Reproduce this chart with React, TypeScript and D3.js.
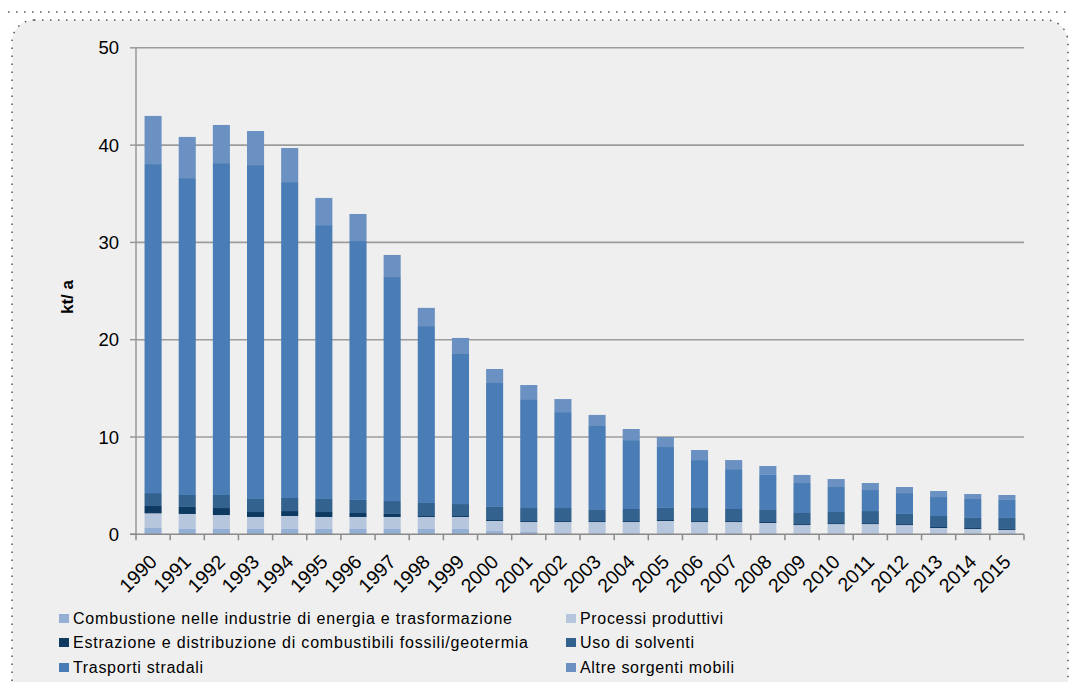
import React from "react";
import * as d3 from "d3";

const years = ["1990","1991","1992","1993","1994","1995","1996","1997","1998","1999","2000","2001","2002","2003","2004","2005","2006","2007","2008","2009","2010","2011","2012","2013","2014","2015"];

const combustione = [0.65,0.55,0.55,0.55,0.55,0.55,0.55,0.55,0.55,0.55,0.33,0.23,0.1,0.1,0.1,0.1,0.1,0.1,0.1,0.05,0.05,0.05,0.05,0.05,0.05,0.05];
const processi = [1.5,1.54,1.43,1.23,1.33,1.23,1.23,1.23,1.23,1.23,1.04,1.03,1.16,1.16,1.16,1.27,1.16,1.16,1.06,0.9,1.0,1.0,0.9,0.6,0.5,0.4];
const estrazione = [0.76,0.72,0.72,0.51,0.51,0.51,0.41,0.31,0.1,0.1,0.1,0.1,0.1,0.1,0.1,0.1,0.1,0.1,0.1,0.1,0.1,0.1,0.1,0.1,0.1,0.1];
const solventi = [1.33,1.23,1.34,1.34,1.34,1.34,1.34,1.33,1.34,1.23,1.34,1.34,1.34,1.14,1.24,1.24,1.34,1.24,1.24,1.14,1.14,1.24,1.04,1.13,1.03,1.13];
const trasporti = [33.81,32.57,34.11,34.32,32.47,28.15,26.61,23.02,18.18,15.42,12.74,11.19,9.86,8.63,7.08,6.26,4.93,4.1,3.6,3.08,2.57,2.16,2.15,1.95,1.95,1.85];
const altre = [4.95,4.23,3.92,3.5,3.5,2.79,2.78,2.27,1.87,1.65,1.44,1.45,1.34,1.14,1.14,1.03,1.03,0.93,0.92,0.83,0.82,0.72,0.62,0.62,0.51,0.51];

const yTicks = [0, 10, 20, 30, 40, 50];

const seriesNames = [
  "Combustione nelle industrie di energia e trasformazione",
  "Processi produttivi",
  "Estrazione e distribuzione di combustibili fossili/geotermia",
  "Uso di solventi",
  "Trasporti stradali",
  "Altre sorgenti mobili",
];
const seriesValues = [combustione, processi, estrazione, solventi, trasporti, altre];
const seriesColors = ["#93afd3", "#b5c6dd", "#0e3a61", "#33628f", "#4a7db5", "#6b91c2"];

const FONT = "'Liberation Sans', Arial, sans-serif";

// legend layout: [squareX, squareY, textWidth]
const legendLayout = [
  [59, 614, 439], [566, 614, 143],
  [59, 638, 455], [566, 638, 114],
  [59, 663, 130], [566, 663, 154],
];

export default function App() {
  const W = 1070, H = 682;
  const x = d3.scaleBand<string>().domain(years).range([136, 1024]).paddingInner(0.5).paddingOuter(0.25);
  const y = d3.scaleLinear().domain([0, 50]).range([534.3, 47.8]);

  const rows = years.map((yr, i) => {
    const r: any = { year: yr };
    seriesNames.forEach((n, k) => (r[n] = seriesValues[k][i]));
    return r;
  });
  const stack = d3.stack<any>().keys(seriesNames)(rows);

  return (
    <div style={{ position: "absolute", left: 0, top: 0 }}>
      <svg width={W} height={H} style={{ display: "block", fontFamily: FONT }}>
        <rect x={0} y={0} width={W} height={H} fill="#ffffff" />
        <line x1={8} x2={W} y1={12} y2={12} stroke="#555" strokeWidth={1.5} strokeDasharray="1.5 6.5" />
        <rect x={12} y={20} width={1056} height={700} rx={22} ry={22} fill="#efefef" stroke="#555" strokeWidth={1.5} strokeDasharray="1.5 6.5" />

        {/* gridlines */}
        {yTicks.filter((t) => t > 0).map((t) => (
          <line key={t} x1={136} x2={1024} y1={y(t)} y2={y(t)} stroke="#9c9c9c" strokeWidth={1.6} />
        ))}

        {/* bars */}
        {stack.map((s, k) => (
          <g key={k} fill={seriesColors[k]}>
            {s.map((d, i) => (
              <rect key={i} x={x(years[i])} width={x.bandwidth()} y={y(d[1])} height={Math.max(0, y(d[0]) - y(d[1]))} />
            ))}
          </g>
        ))}

        {/* axes */}
        <line x1={136} x2={136} y1={y(50)} y2={y(0)} stroke="#999" strokeWidth={1.5} />
        {yTicks.map((t) => (
          <g key={t}>
            <line x1={130} x2={136} y1={y(t)} y2={y(t)} stroke="#999" strokeWidth={1.5} />
            <text x={119} y={y(t)} dy="0.36em" textAnchor="end" fontSize={18.5} fill="#000">{t}</text>
          </g>
        ))}
        <line x1={130} x2={1024} y1={y(0)} y2={y(0)} stroke="#8a8a8a" strokeWidth={1.6} />
        {years.map((yr, i) => {
          const xl = 136 + i * x.step();
          return <line key={yr} x1={xl} x2={xl} y1={y(0)} y2={y(0) + 6} stroke="#8a8a8a" strokeWidth={1.5} />;
        })}
        <line x1={1024} x2={1024} y1={y(0)} y2={y(0) + 6} stroke="#8a8a8a" strokeWidth={1.5} />
        {years.map((yr) => {
          const cx = (x(yr) as number) + x.bandwidth() / 2 + 5;
          const cy = 563;
          return (
            <text key={yr} x={cx} y={cy} textAnchor="end" fontSize={19.5} fill="#000" transform={`rotate(-45 ${cx} ${cy})`}>{yr}</text>
          );
        })}

        <text x={0} y={0} transform={`translate(73 297) rotate(-90)`} textAnchor="middle" fontSize={17} fontWeight="bold" fill="#000">kt/ a</text>

        {/* legend */}
        {seriesNames.map((n, k) => (
          <g key={n}>
            <rect x={legendLayout[k][0]} y={legendLayout[k][1]} width={10} height={9} fill={seriesColors[k]} />
            <text x={legendLayout[k][0] + 14} y={legendLayout[k][1] + 10} fontSize={16} fill="#000" textLength={legendLayout[k][2]} lengthAdjust="spacing">{n}</text>
          </g>
        ))}
      </svg>
    </div>
  );
}
